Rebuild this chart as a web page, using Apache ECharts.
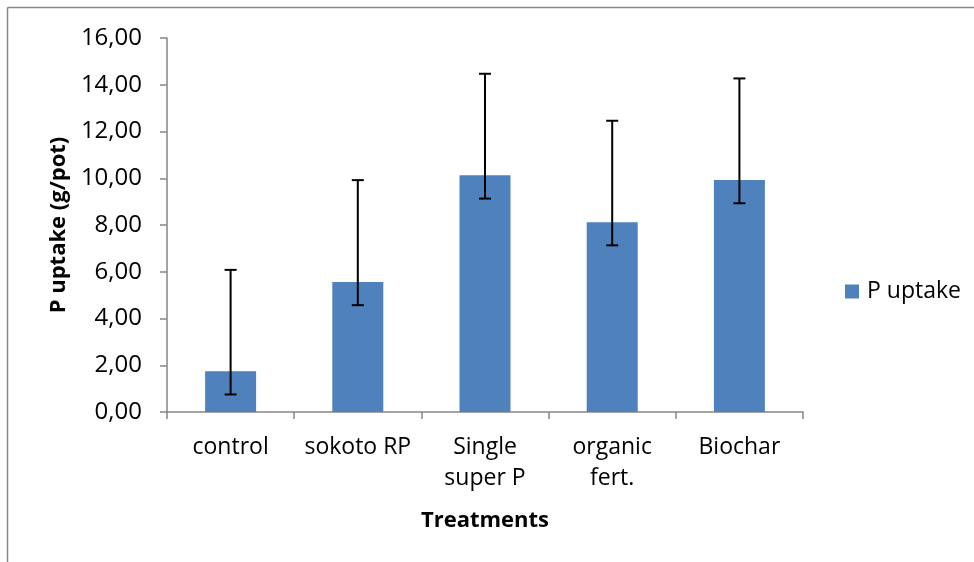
<!DOCTYPE html>
<html>
<head>
<meta charset="utf-8">
<script src="https://cdn.jsdelivr.net/npm/echarts@6/dist/echarts.min.js"></script>
<style>
html,body{margin:0;padding:0;background:#fff;}
#chart{width:974px;height:562px;}
</style>
</head>
<body>
<div id="chart"></div>
<script>
var categories = ['control', 'sokoto RP', 'Single\nsuper P', 'organic\nfert.', 'Biochar'];
var values = [1.74, 5.56, 10.13, 8.12, 9.92];
var errLow = [0.75, 4.57, 9.13, 7.13, 8.93];
var errHigh = [6.08, 9.92, 14.47, 12.46, 14.27];
var yTicks = [0, 2, 4, 6, 8, 10, 12, 14, 16];

var FONT = '"Open Sans", sans-serif';
var chart = echarts.init(document.getElementById('chart'), null, {renderer: 'canvas'});

var errData = categories.map(function (c, i) { return [i, errLow[i], errHigh[i]]; });

chart.setOption({
  animation: false,
  backgroundColor: '#ffffff',
  textStyle: {fontFamily: FONT},
  graphic: [
    {type: 'line', shape: {x1: 7.5, y1: 7.5, x2: 974, y2: 7.5}, style: {stroke: '#888888', lineWidth: 1.5}},
    {type: 'line', shape: {x1: 7.5, y1: 7.5, x2: 7.5, y2: 562}, style: {stroke: '#888888', lineWidth: 1.5}}
  ],
  grid: {left: 167, right: 171, top: 38, bottom: 150, containLabel: false},
  legend: {
    data: ['P uptake'],
    left: 840, top: 275,
    itemWidth: 14, itemHeight: 14, itemGap: 8,
    icon: 'rect',
    textStyle: {fontFamily: FONT, fontSize: 23, color: '#000', padding: [0, 0, 0, 3]}
  },
  xAxis: {
    type: 'category',
    data: categories,
    boundaryGap: true,
    name: 'Treatments',
    nameLocation: 'middle',
    nameGap: 98,
    nameTextStyle: {fontFamily: FONT, fontSize: 22, fontWeight: 'bold', color: '#000'},
    axisLine: {show: true, lineStyle: {color: '#868686', width: 1.5}},
    axisTick: {show: true, length: 7, alignWithLabel: false, lineStyle: {color: '#868686', width: 1.5}},
    axisLabel: {fontFamily: FONT, fontSize: 23, color: '#000', margin: 20, lineHeight: 31, interval: 0}
  },
  yAxis: {
    type: 'value',
    min: 0, max: 16, interval: 2,
    name: 'P uptake (g/pot)',
    nameLocation: 'middle',
    nameGap: 95,
    nameRotate: 90,
    nameTextStyle: {fontFamily: FONT, fontSize: 22, fontWeight: 'bold', color: '#000'},
    axisLine: {show: true, lineStyle: {color: '#868686', width: 1.5}},
    axisTick: {show: true, length: 7, inside: false, lineStyle: {color: '#868686', width: 1.5}},
    splitLine: {show: false},
    axisLabel: {
      fontFamily: FONT, fontSize: 24, color: '#000', margin: 25,
      formatter: function (v) { return yTicks.indexOf(v) >= 0 ? v.toFixed(2).replace('.', ',') : ''; }
    }
  },
  series: [
    {
      name: 'P uptake',
      type: 'bar',
      data: values,
      barWidth: 51,
      itemStyle: {color: '#4F81BD'},
      z: 2
    },
    {
      name: 'error',
      type: 'custom',
      data: errData,
      z: 5,
      renderItem: function (params, api) {
        var x = api.value(0);
        var lo = api.coord([x, api.value(1)]);
        var hi = api.coord([x, api.value(2)]);
        var hw = 6;
        var st = {stroke: '#000', lineWidth: 2, fill: null};
        return {
          type: 'group',
          children: [
            {type: 'line', shape: {x1: lo[0], y1: lo[1], x2: hi[0], y2: hi[1]}, style: st},
            {type: 'line', shape: {x1: lo[0] - hw, y1: lo[1], x2: lo[0] + hw, y2: lo[1]}, style: st},
            {type: 'line', shape: {x1: hi[0] - hw, y1: hi[1], x2: hi[0] + hw, y2: hi[1]}, style: st}
          ]
        };
      }
    }
  ]
});
</script>
</body>
</html>
